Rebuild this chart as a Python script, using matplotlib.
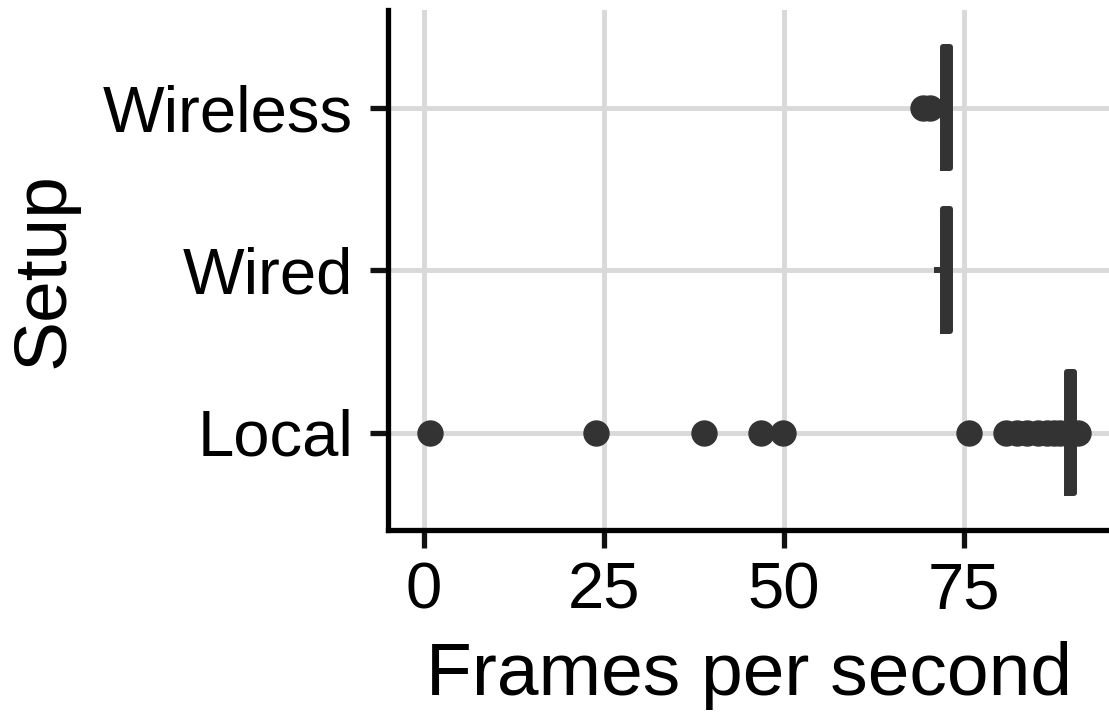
import matplotlib
matplotlib.use("Agg")
import matplotlib.pyplot as plt

setups = ["Local", "Wired", "Wireless"]
q1 = [89.3, 72.0, 72.0]
median = [89.8, 72.5, 72.5]
q3 = [90.3, 73.0, 73.0]
whisker_lo = [89.0, 71.2, 72.0]
whisker_hi = [90.5, 73.0, 73.0]
outliers = [
    [0.8, 23.9, 38.9, 46.8, 49.9, 75.7, 80.8, 82.3, 83.7, 85.2, 86.5, 87.5, 88.3, 90.8],
    [],
    [69.3, 70.3],
]

plt.rcParams["font.family"] = ["Liberation Sans", "DejaVu Sans"]

fig = plt.figure(figsize=(11.09, 7.13), dpi=100)
ax = fig.add_axes([388 / 1109, 1 - 530 / 713, 1 - 388 / 1109, (530 - 10) / 713])

stats = []
for i, name in enumerate(setups):
    stats.append(dict(label=name, q1=q1[i], med=median[i], q3=q3[i],
                      whislo=whisker_lo[i], whishi=whisker_hi[i], fliers=outliers[i]))

dark = "#333333"
lw = 4.3
ax.bxp(stats, positions=[1, 2, 3], orientation="horizontal", widths=0.75,
       showcaps=False,
       boxprops=dict(color=dark, linewidth=lw, solid_joinstyle="round"),
       medianprops=dict(color=dark, linewidth=lw, solid_capstyle="round"),
       whiskerprops=dict(color=dark, linewidth=lw),
       flierprops=dict(marker="o", markersize=18, markerfacecolor=dark,
                       markeredgecolor=dark, linestyle="none"),
       zorder=3)

ax.set_xlim(-5.0, 95.1)
ax.set_ylim(0.4, 3.6)
ax.set_xticks([0, 25, 50, 75])
ax.set_yticks([1, 2, 3])
ax.set_yticklabels(setups)

ax.grid(True, color="#D9D9D9", linewidth=3.5, zorder=0)
ax.set_axisbelow(True)
for side in ["top", "right"]:
    ax.spines[side].set_visible(False)
for side in ["left", "bottom"]:
    ax.spines[side].set_linewidth(3.8)
    ax.spines[side].set_color("black")
    ax.spines[side].set_capstyle("projecting")

ax.tick_params(axis="both", length=13, width=3.8, color="#111111",
               labelsize=47, labelcolor="black")
ax.tick_params(axis="y", pad=12)
ax.tick_params(axis="x", pad=10)

ax.set_xlabel("Frames per second", fontsize=54, labelpad=14)
ax.set_ylabel("Setup", fontsize=54, labelpad=18)

fig.savefig("out.png", dpi=100)
